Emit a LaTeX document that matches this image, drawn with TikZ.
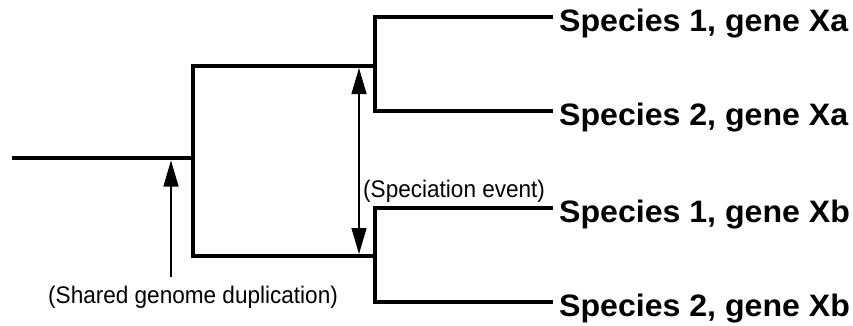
\documentclass[tikz,border=0pt]{standalone}
\usepackage{fontspec}
\usepackage{graphicx}
\setmainfont{Liberation Sans}
\usetikzlibrary{arrows.meta}
\begin{document}
\begin{tikzpicture}[x=1pt,y=-1pt,
  branch/.style={line width=3.5pt,line join=miter},
  evarrow/.style={line width=1.1pt,-{Triangle[length=26pt,width=15pt]}},
  evarrows/.style={line width=1.1pt,{Triangle[length=26pt,width=15pt]}-{Triangle[length=26pt,width=15pt]}},
  leaf/.style={anchor=base west,inner sep=0pt,font=\fontsize{31}{31}\selectfont\bfseries},
  note/.style={anchor=base west,inner sep=0pt,font=\fontsize{24}{24}\selectfont}]
\useasboundingbox (0,0) rectangle (853,325);
% tree points
\coordinate (r0) at (12,158);
\coordinate (d) at (193,158);
\coordinate (dt) at (193,66);
\coordinate (db) at (193,256);
\coordinate (at) at (375,66);
\coordinate (ab) at (375,256);
\coordinate (a1) at (375,17);
\coordinate (a2) at (375,111);
\coordinate (b1) at (375,208);
\coordinate (b2) at (375,302);
\coordinate (e1) at (553,17);
\coordinate (e2) at (553,111);
\coordinate (e3) at (553,208);
\coordinate (e4) at (553,302);
% branches
\draw[branch] (r0) -- (d);
\draw[branch] (at) -- (dt) -- (db) -- (ab);
\draw[branch] (e1) -- (a1) -- (a2) -- (e2);
\draw[branch] (e3) -- (b1) -- (b2) -- (e4);
% labels
\node[leaf] (l1) at (559,31) {\scalebox{1.035}[1]{Species 1, gene Xa}};
\node[leaf] (l2) at (559,125) {\scalebox{1.035}[1]{Species 2, gene Xa}};
\node[leaf] (l3) at (559,222) {\scalebox{1.035}[1]{Species 1, gene Xb}};
\node[leaf] (l4) at (559,316) {\scalebox{1.035}[1]{Species 2, gene Xb}};
\node[note] (sp) at (363,197) {\scalebox{0.94}[1]{(Speciation event)}};
\node[note] (sh) at (48,303) {\scalebox{0.94}[1]{(Shared genome duplication)}};
% event arrows
\coordinate (dupfoot) at (171,277);
\coordinate (duptip) at (171,160.5);
\coordinate (spt) at (359,68);
\coordinate (spb) at (359,254);
\draw[evarrow] (dupfoot) -- (duptip);
\draw[evarrows] (spt) -- (spb);
\end{tikzpicture}
\end{document}
